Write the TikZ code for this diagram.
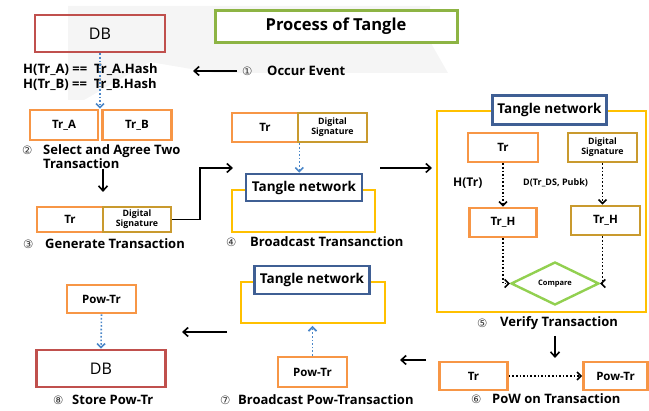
\documentclass[tikz,border=0pt]{standalone}
\usepackage{fontspec}
\setmainfont{Open Sans}
\newfontfamily\symf{DejaVu Sans}
\usetikzlibrary{arrows.meta,shapes.geometric}
\definecolor{redC}{HTML}{C0504D}
\definecolor{orC}{HTML}{F79646}
\definecolor{goldC}{HTML}{C99A2E}
\definecolor{blueC}{HTML}{3F5F94}
\definecolor{yelC}{HTML}{FFC000}
\definecolor{grnC}{HTML}{8DB444}
\definecolor{cmpC}{HTML}{92D050}
\definecolor{dotC}{HTML}{4A86C8}
\tikzset{
  bx/.style={draw, line width=2.7pt, inner sep=0pt, font=\bfseries\fontsize{11.5}{12}\selectfont},
  obox/.style={bx, draw=orC},
  gbox/.style={bx, draw=goldC, font=\bfseries\fontsize{8.8}{9.8}\selectfont, align=center},
  rbox/.style={bx, draw=redC, font=\fontsize{16}{17}\selectfont},
  tbox/.style={bx, draw=blueC, fill=white, font=\bfseries\fontsize{13.5}{14}\selectfont},
  yframe/.style={draw=yelC, line width=2.4pt},
  lbl/.style={font=\bfseries\fontsize{13}{14}\selectfont, anchor=west, inner sep=0pt, align=left},
  num/.style={font=\symf\fontsize{11.5}{12}\selectfont, anchor=west, inner sep=0pt, text=black!80},
  arr/.style={line width=1.6pt, -{Straight Barb[length=5pt,width=9pt]}},
  bdot/.style={dotC, line width=1.6pt, dotted, -{Straight Barb[length=4pt,width=8pt]}},
  kdot/.style={black, line width=1.6pt, dotted, -{Straight Barb[length=4pt,width=8pt]}},
}
\begin{document}
\begin{tikzpicture}[x=1pt,y=-1pt]
\useasboundingbox (0,0) rectangle (649,411);
% faint background swoosh
\fill[black!4] (68,6) -- (430,6) -- (432,45) -- (448,73) -- (215,73) -- (150,62) -- (84,100) -- (68,100) -- cycle;

% title
\node[draw=grnC, line width=3pt, fill=white, minimum width=242pt, minimum height=32pt, inner sep=0pt,
      font=\bfseries\fontsize{16.5}{18}\selectfont] (title) at (336,26.5) {Process of Tangle};

% ---- step 1 / 2
\node[rbox, minimum width=130pt, minimum height=37pt] (db1) at (100,33.5) {DB};
\node[lbl, anchor=north west, font=\bfseries\fontsize{13}{15}\selectfont] (hash) at (23,63) {H(Tr\_A) ==\ \ Tr\_A.Hash\\H(Tr\_B) ==\ \ Tr\_B.Hash};
\node[num] (n1) at (242,71) {①};
\node[lbl] (occ) at (267,71) {Occur Event};
\coordinate (occEnd) at (193,71);
\draw[arr] (n1.west) ++(-5,0) -- (occEnd);

\node[obox, minimum width=68pt, minimum height=30pt] (tra) at (64,125) {Tr\_A};
\node[obox, minimum width=69pt, minimum height=30pt] (trb) at (137,125) {Tr\_B};
\draw[bdot] (db1.south) -- (db1.south |- tra.north);

\node[num] (n2) at (22,150) {②};
\node[lbl] (sel) at (43,156.5) {Select and Agree Two\\Transaction};
\coordinate (a2s) at (103,169);
\coordinate (a2e) at (103,192);
\draw[arr] (a2s) -- (a2e);

% ---- step 3
\node[obox, minimum width=66pt, minimum height=25pt] (tr3) at (70,219.5) {Tr};
\node[gbox, minimum width=68pt, minimum height=25pt] (ds3) at (137,219.5) {Digital\\Signature};
\node[num] (n3) at (23,244) {③};
\node[lbl] (gen) at (45,244) {Generate Transaction};
\coordinate (a3e) at (233,168);
\draw[arr] (ds3.east) -| (200,168) -- (a3e);

% ---- step 4
\node[obox, minimum width=66pt, minimum height=29pt] (tr4) at (265,127.5) {Tr};
\node[gbox, minimum width=69pt, minimum height=29pt] (ds4) at (332.5,127.5) {Digital\\Signature};
\draw[yframe] (232,190) rectangle (375,232);
\node[tbox, minimum width=116pt, minimum height=27pt] (tn4) at (304,187.5) {Tangle network};
\draw[bdot] (tr4.south east) -- (tr4.south east |- tn4.north);
\node[num] (n4) at (226,242) {④};
\node[lbl] (bc) at (250,242) {Broadcast Transanction};
\coordinate (a4s) at (380,168);
\coordinate (a4e) at (432,168);
\draw[arr] (a4s) -- (a4e);

% ---- step 5
\draw[yframe] (437,111) rectangle (646,312);
\node[tbox, minimum width=114pt, minimum height=29pt] (tn5) at (549.5,110) {Tangle network};
\node[obox, minimum width=70pt, minimum height=29pt] (tr5) at (503,147.5) {Tr};
\node[gbox, minimum width=69pt, minimum height=29pt] (ds5) at (602.5,147.5) {Digital\\Signature};
\node[obox, minimum width=67pt, minimum height=29pt] (th1) at (503,222.5) {Tr\_H};
\node[bx, draw=goldC, minimum width=69pt, minimum height=29pt] (th2) at (605.5,220.5) {Tr\_H};
\node[draw=cmpC, line width=2.4pt, diamond, aspect=2.05, minimum width=88pt, minimum height=43pt, inner sep=0pt,
      font=\bfseries\fontsize{7.5}{8}\selectfont] (cmp) at (555,283.5) {Compare};
\node[lbl, font=\bfseries\fontsize{12}{13}\selectfont] (htr) at (453,183) {H(Tr)};
\node[lbl, font=\bfseries\fontsize{9}{10}\selectfont] (dtr) at (523,183) {D(Tr\_DS, Pubk)};
\draw[kdot] (tr5.south) -- (th1.north);
\draw[kdot] (ds5.south) -- (ds5.south |- th2.north);
\draw[kdot] (th1.south) |- (cmp.west);
\draw[kdot] (ds5.south |- th2.south) |- (cmp.east);
\node[num] (n5) at (477,323) {⑤};
\node[lbl] (ver) at (500,323) {Verify Transaction};
\coordinate (a5s) at (555,336);
\coordinate (a5e) at (555,358);
\draw[arr] (a5s) -- (a5e);

% ---- step 6
\node[obox, minimum width=68pt, minimum height=28pt] (tr6) at (473.5,376) {Tr};
\node[obox, minimum width=64pt, minimum height=28pt] (pw6) at (615.5,376) {Pow-Tr};
\draw[kdot] (tr6.east) -- (pw6.west);
\node[num] (n6) at (471,399) {⑥};
\node[lbl] (pow) at (492,399) {PoW on Transaction};
\coordinate (a6s) at (426,360);
\coordinate (a6e) at (400,360);
\draw[arr] (a6s) -- (a6e);

% ---- step 7
\draw[yframe] (241,282) rectangle (385,323);
\node[tbox, minimum width=115pt, minimum height=28pt] (tn7) at (312,280) {Tangle network};
\node[obox, minimum width=69pt, minimum height=30pt] (pw7) at (312.5,372) {Pow-Tr};
\draw[bdot] (pw7.north) -- (pw7.north |- 0,326);
\node[num] (n7) at (220,400) {⑦};
\node[lbl] (bpt) at (238,400) {Broadcast Pow-Transaction};
\coordinate (a7s) at (227,332);
\coordinate (a7e) at (182,332);
\draw[arr] (a7s) -- (a7e);

% ---- step 8
\node[obox, minimum width=69pt, minimum height=28pt] (pw8) at (101.5,299) {Pow-Tr};
\node[rbox, minimum width=129pt, minimum height=37pt] (db8) at (101,368.5) {DB};
\draw[bdot] (pw8.south) -- (db8.north);
\node[num] (n8) at (53,400) {⑧};
\node[lbl] (sto) at (72,400) {Store Pow-Tr};
\end{tikzpicture}
\end{document}
